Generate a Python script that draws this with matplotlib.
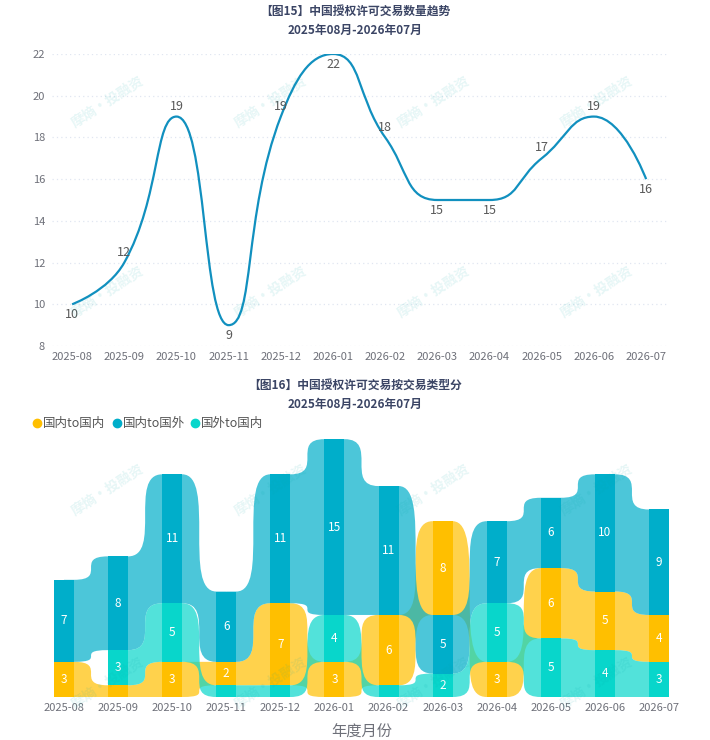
import numpy as np
import matplotlib
matplotlib.use("Agg")
import matplotlib.pyplot as plt
from matplotlib.path import Path
from matplotlib.patches import PathPatch
from matplotlib.lines import Line2D

plt.rcParams['font.family'] = ['Noto Sans CJK SC', 'DejaVu Sans']

# ---- data ----
months = ["2025-08", "2025-09", "2025-10", "2025-11", "2025-12", "2026-01",
          "2026-02", "2026-03", "2026-04", "2026-05", "2026-06", "2026-07"]
total_deals = [10, 12, 19, 9, 19, 22, 18, 15, 15, 17, 19, 16]
label_side = ["below", "above", "above", "below", "above", "below",
              "above", "below", "below", "above", "above", "below"]

series_names = ["国内to国内", "国内to国外", "国外to国内"]
dom_to_dom = [3, 1, 3, 2, 7, 3, 6, 8, 3, 6, 5, 4]
dom_to_for = [7, 8, 11, 6, 11, 15, 11, 5, 7, 6, 10, 9]
for_to_dom = [0, 3, 5, 1, 1, 4, 1, 2, 5, 5, 4, 3]
series_colors = ["#FFBF00", "#00AECA", "#08D6CB"]

W, H = 710, 740
fig = plt.figure(figsize=(W / 100, H / 100), dpi=100)
title_color = "#3B4565"
tick_color = "#6E7079"


def fx(px):
    return px / W


def fy(py):
    return 1 - py / H


# ---- top chart: smooth line ----
ax1 = fig.add_axes([fx(52), fy(346), fx(667) - fx(52), fy(54) - fy(346)])
ax1.set_xlim(-0.385, 11.4)
ax1.set_ylim(8, 22)
ax1.set_yticks(range(8, 23, 2))
ax1.set_xticks(range(len(months)))
ax1.set_xticklabels(months)
ax1.tick_params(length=0, labelsize=8, labelcolor=tick_color)
ax1.tick_params(axis="y", pad=5)
ax1.tick_params(axis="x", pad=4)
for s in ax1.spines.values():
    s.set_visible(False)
ax1.grid(axis="y", color="#E0E6F1", linestyle=(0, (1, 2.5)), linewidth=0.9)
ax1.set_axisbelow(True)


def smooth_line(xs, ys, smooth=0.5):
    # same control point rule as echarts smooth lines (in pixels)
    pts = ax1.transData.transform(np.column_stack([xs, ys]))
    n = len(pts)
    verts = [tuple(pts[0])]
    codes = [Path.MOVETO]
    cpx0, cpy0 = pts[0]
    for k in range(1, n):
        x, y = pts[k]
        px_, py_ = pts[k - 1]
        if k == n - 1:
            cpx1, cpy1 = x, y
            ncx, ncy = x, y
        else:
            nx_, ny_ = pts[k + 1]
            vx, vy = nx_ - px_, ny_ - py_
            lp = np.hypot(x - px_, y - py_)
            ln = np.hypot(nx_ - x, ny_ - y)
            r = ln / (ln + lp)
            ncx = x + vx * smooth * r
            ncy = y + vy * smooth * r
            ncx = max(min(ncx, max(nx_, x)), min(nx_, x))
            ncy = max(min(ncy, max(ny_, y)), min(ny_, y))
            vx, vy = ncx - x, ncy - y
            cpx1 = x - vx * lp / ln
            cpy1 = y - vy * lp / ln
            cpx1 = max(min(cpx1, max(px_, x)), min(px_, x))
            cpy1 = max(min(cpy1, max(py_, y)), min(py_, y))
            vx, vy = x - cpx1, y - cpy1
            ncx = x + vx * ln / lp
            ncy = y + vy * ln / lp
        verts += [(cpx0, cpy0), (cpx1, cpy1), (x, y)]
        codes += [Path.CURVE4] * 3
        cpx0, cpy0 = ncx, ncy
    verts = ax1.transData.inverted().transform(np.array(verts))
    return Path(verts, codes)


xs = np.arange(len(months))
ax1.add_patch(PathPatch(smooth_line(xs, total_deals), fill=False,
                        edgecolor="#1190BF", linewidth=1.6, zorder=3))
for i, v in enumerate(total_deals):
    off = 7.5 if label_side[i] == "above" else -7.5
    ax1.annotate(str(v), (i, v), xytext=(0, off), textcoords="offset points",
                 ha="center", va="center", fontsize=9, color="#595959", zorder=4)

fig.text(0.5, fy(12), "【图15】中国授权许可交易数量趋势", ha="center", va="center",
         fontsize=8.5, fontweight="bold", color=title_color)
fig.text(0.5, fy(30), "2025年08月-2026年07月", ha="center", va="center",
         fontsize=8.5, fontweight="bold", color=title_color)

# ---- bottom chart: ribbon chart ----
ax2 = fig.add_axes([fx(54), fy(697), fx(669) - fx(54), fy(430) - fy(697)])
bw = 20 / 54.1
ax2.set_xlim(-bw / 2, len(months) - 1 + bw / 2)
ax2.set_ylim(0, (697 - 430) / 11.72)
ax2.set_yticks([])
ax2.set_xticks(range(len(months)))
ax2.set_xticklabels(months)
ax2.tick_params(length=0, labelsize=8, labelcolor=tick_color, pad=4)
for s in ax2.spines.values():
    s.set_visible(False)

values = np.array([dom_to_dom, dom_to_for, for_to_dom], dtype=float)
bottoms = np.zeros_like(values)
for j in range(len(months)):
    # smallest value sits at the bottom of each month
    order = sorted(range(3), key=lambda s: values[s, j])
    acc = 0
    for s in order:
        bottoms[s, j] = acc
        acc += values[s, j]
tops = bottoms + values


def ribbon(j, b0, t0, b1, t1):
    # flat under the bars, s-curve in the gap between them
    xa, x0, x1, xb = j, j + bw / 2, j + 1 - bw / 2, j + 1
    verts = [(xa, b0), (x0, b0), (x1, b0), (x0, b1), (x1, b1), (xb, b1),
             (xb, t1), (x1, t1), (x0, t1), (x1, t0), (x0, t0), (xa, t0), (xa, b0)]
    codes = [Path.MOVETO, Path.LINETO, Path.CURVE4, Path.CURVE4, Path.CURVE4,
             Path.LINETO, Path.LINETO, Path.LINETO, Path.CURVE4, Path.CURVE4,
             Path.CURVE4, Path.LINETO, Path.CLOSEPOLY]
    return Path(verts, codes)


for s in range(3):
    for j in range(len(months) - 1):
        if values[s, j] == 0 or values[s, j + 1] == 0:
            continue
        p = ribbon(j, bottoms[s, j], tops[s, j], bottoms[s, j + 1], tops[s, j + 1])
        ax2.add_patch(PathPatch(p, facecolor=series_colors[s], alpha=0.7,
                                edgecolor="none", zorder=2))

for s in range(3):
    ax2.bar(xs, values[s], bottom=bottoms[s], width=bw, color=series_colors[s],
            zorder=3, linewidth=0)
    for j in range(len(months)):
        if values[s, j] >= 2:
            ax2.text(j, bottoms[s, j] + values[s, j] / 2, str(int(values[s, j])),
                     ha="center", va="center", color="white", fontsize=8.5, zorder=4)

ax2.set_xlabel("年度月份", fontsize=11, color=tick_color, labelpad=8)

fig.text(0.5, fy(385), "【图16】中国授权许可交易按交易类型分", ha="center", va="center",
         fontsize=8.5, fontweight="bold", color=title_color)
fig.text(0.5, fy(404), "2025年08月-2026年07月", ha="center", va="center",
         fontsize=8.5, fontweight="bold", color=title_color)

# legend
for mx, name, c in zip([37, 117, 195], series_names, series_colors):
    fig.add_artist(Line2D([fx(mx)], [fy(423)], marker="o", markersize=6,
                          color=c, linestyle="none", transform=fig.transFigure))
    fig.text(fx(mx + 6), fy(423), name, ha="left", va="center",
             fontsize=9, color="#555555")

# watermark
for wy in [102, 292, 490, 683]:
    for wx in [108, 271, 434, 597]:
        fig.text(fx(wx), fy(wy), "摩熵·投融资", ha="center", va="center",
                 rotation=33, fontsize=10, fontweight="bold",
                 color="#00A8A8", alpha=0.1, zorder=10)

fig.savefig("out.png", dpi=100)
